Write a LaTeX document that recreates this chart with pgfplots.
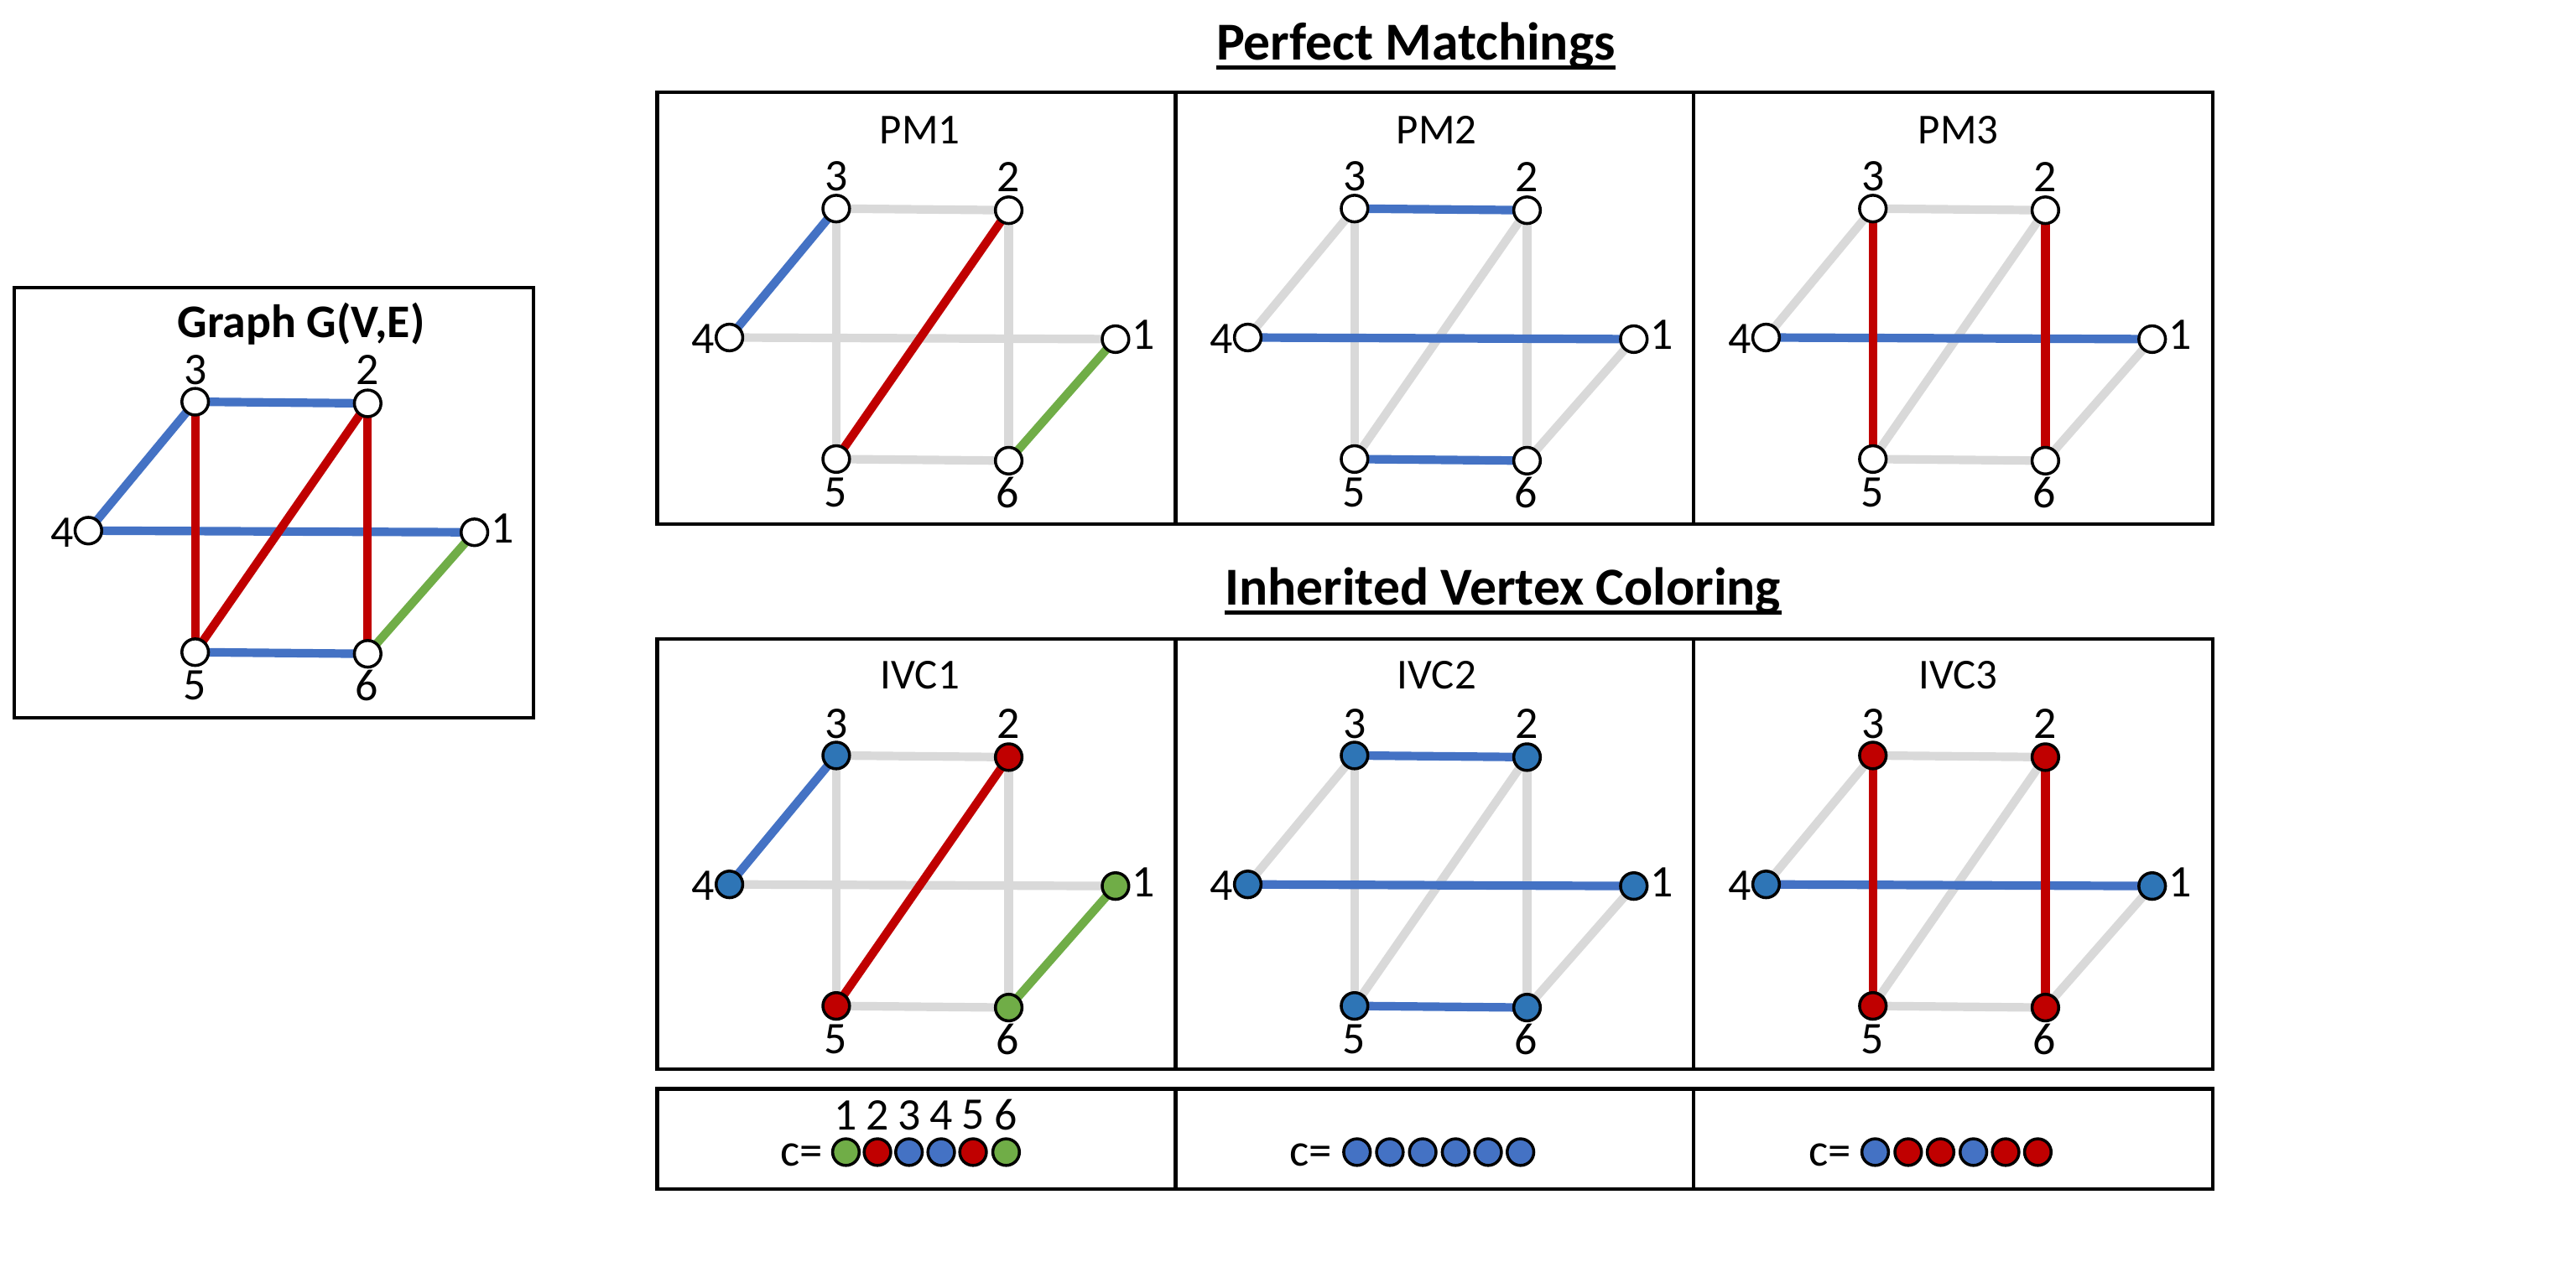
\documentclass[border=0pt]{standalone}
\usepackage{pgfplots}
\pgfplotsset{compat=1.18}
\usepackage{fontspec}
\setmainfont{Carlito}
\definecolor{eblue}{HTML}{4472C4}
\definecolor{ered}{HTML}{C00000}
\definecolor{egreen}{HTML}{70AD47}
\definecolor{egray}{HTML}{D9D9D9}
\definecolor{vblue}{HTML}{2E75B6}
\newcommand{\fs}[1]{\fontsize{#1}{#1}\selectfont}
\pgfplotsset{
  panel/.style 2 args={scale only axis, anchor=north west, width=#1pt, height=#2pt,
    xmin=0, xmax=#1, ymin=0, ymax=#2, y dir=reverse, xtick=\empty, ytick=\empty,
    clip=false, axis line style={line width=2.2pt, black}},
  gedge/.style={draw=#1, line width=5.2pt, mark=none},
  vtx/.style={only marks, mark=*, mark size=8.1pt, mark options={draw=black, fill=#1, line width=1.8pt}},
}
\newcommand{\vlabels}{%
  \node[font=\fs{27.5}] at (axis cs:109,51.5) {3};
  \node[font=\fs{27.5}] at (axis cs:214,51.5) {2};
  \node[font=\fs{27.5}] at (axis cs:28,150.5) {4};
  \node[font=\fs{27.5}] at (axis cs:296,148) {1};
  \node[font=\fs{27.5}] at (axis cs:108.5,244) {5};
  \node[font=\fs{27.5}] at (axis cs:213.5,244) {6};
}
\begin{document}
\begin{tikzpicture}
% ---------- master axis: page, titles, colour row ----------
\begin{axis}[scale only axis, width=1568pt, height=784pt, xmin=0, xmax=1568, ymin=0, ymax=784,
  y dir=reverse, hide axis, clip=false, anchor=north west, at={(0pt,0pt)}]
\path (rel axis cs:0,0) rectangle (rel axis cs:1,1);
\node[font=\fs{32.5}\bfseries, anchor=base, inner sep=0pt] (t1) at (axis cs:861.8,36.6) {Perfect Matchings};
\draw[line width=2.3pt] ([yshift=-4.4pt]t1.base west) -- ([yshift=-4.4pt]t1.base east);
\node[font=\fs{32.5}\bfseries, anchor=base, inner sep=0pt] (t2) at (axis cs:914.8,368.5) {Inherited Vertex Coloring};
\draw[line width=2.3pt] ([yshift=-4.4pt]t2.base west) -- ([yshift=-4.4pt]t2.base east);
\node[font=\fs{28.5}\bfseries, anchor=base, inner sep=0pt] at (axis cs:183.3,205.5) {Graph G(V,E)};
% colour vectors
\node[font=\fs{28}, anchor=base east, inner sep=0pt] at (axis cs:501,710) {c=};
\node[font=\fs{28}, anchor=base east, inner sep=0pt] at (axis cs:811,710) {c=};
\node[font=\fs{28}, anchor=base east, inner sep=0pt] at (axis cs:1127,710) {c=};
\node[font=\fs{27.5}] at (axis cs:514.9,679) {1};
\node[font=\fs{27.5}] at (axis cs:534.1,679) {2};
\node[font=\fs{27.5}] at (axis cs:553.3,679) {3};
\node[font=\fs{27.5}] at (axis cs:572.9,679) {4};
\node[font=\fs{27.5}] at (axis cs:592.3,679) {5};
\node[font=\fs{27.5}] at (axis cs:612.4,679) {6};
\addplot[vtx=egreen] coordinates {(514.9,701.5) (612.4,701.5)};
\addplot[vtx=ered] coordinates {(534.1,701.5) (592.3,701.5)};
\addplot[vtx=eblue] coordinates {(553.3,701.5) (572.9,701.5)};
\addplot[vtx=eblue] coordinates {(826.0,701.5) (846.0,701.5) (866.0,701.5) (886.0,701.5) (905.8,701.5) (925.5,701.5)};
\addplot[vtx=eblue] coordinates {(1141.4,701.5) (1201.2,701.5)};
\addplot[vtx=ered] coordinates {(1161.5,701.5) (1181.2,701.5) (1220.8,701.5) (1240.4,701.5)};
\end{axis}
% colour row boxes
\begin{axis}[panel={315.5}{61}, at={(400pt,-663pt)}] \end{axis}
\begin{axis}[panel={315.5}{61}, at={(715.5pt,-663pt)}] \end{axis}
\begin{axis}[panel={316}{61}, at={(1031pt,-663pt)}] \end{axis}
% ---------- left graph ----------
\begin{axis}[panel={316}{262}, at={(8.8pt,-175.2pt)}, xmin=-1, xmax=315, ymin=1.6, ymax=263.6]
\addplot[gedge=eblue] coordinates {(109,71) (214,72)};
\addplot[gedge=eblue] coordinates {(109,71) (44,149.5)};
\addplot[gedge=eblue] coordinates {(44,149.5) (279,150.5)};
\addplot[gedge=eblue] coordinates {(109,223.5) (214,224.5)};
\addplot[gedge=ered] coordinates {(109,71) (109,223.5)};
\addplot[gedge=ered] coordinates {(214,72) (109,223.5)};
\addplot[gedge=ered] coordinates {(214,72) (214,224.5)};
\addplot[gedge=egreen] coordinates {(214,224.5) (279,150.5)};
\addplot[vtx=white] coordinates {(279,150.5) (214,72) (109,71) (44,149.5) (109,223.5) (214,224.5)};
\vlabels
\end{axis}
% ---------- PM1 ----------
\begin{axis}[panel={315.5}{263}, at={(400pt,-56pt)}]
\addplot[gedge=egray] coordinates {(109,71) (214,72)};
\addplot[gedge=egray] coordinates {(44,149.5) (279,150.5)};
\addplot[gedge=egray] coordinates {(109,71) (109,223.5)};
\addplot[gedge=egray] coordinates {(214,72) (214,224.5)};
\addplot[gedge=egray] coordinates {(109,223.5) (214,224.5)};
\addplot[gedge=eblue] coordinates {(109,71) (44,149.5)};
\addplot[gedge=ered] coordinates {(214,72) (109,223.5)};
\addplot[gedge=egreen] coordinates {(214,224.5) (279,150.5)};
\addplot[vtx=white] coordinates {(279,150.5) (214,72) (109,71) (44,149.5) (109,223.5) (214,224.5)};
\node[font=\fs{26}, anchor=base] at (axis cs:160,31.5) {PM1};
\vlabels
\end{axis}
% ---------- PM2 ----------
\begin{axis}[panel={315.5}{263}, at={(715.5pt,-56pt)}]
\addplot[gedge=egray] coordinates {(109,71) (44,149.5)};
\addplot[gedge=egray] coordinates {(109,71) (109,223.5)};
\addplot[gedge=egray] coordinates {(214,72) (109,223.5)};
\addplot[gedge=egray] coordinates {(214,72) (214,224.5)};
\addplot[gedge=egray] coordinates {(214,224.5) (279,150.5)};
\addplot[gedge=eblue] coordinates {(109,71) (214,72)};
\addplot[gedge=eblue] coordinates {(44,149.5) (279,150.5)};
\addplot[gedge=eblue] coordinates {(109,223.5) (214,224.5)};
\addplot[vtx=white] coordinates {(279,150.5) (214,72) (109,71) (44,149.5) (109,223.5) (214,224.5)};
\node[font=\fs{26}, anchor=base] at (axis cs:159,31.5) {PM2};
\vlabels
\end{axis}
% ---------- PM3 ----------
\begin{axis}[panel={316}{263}, at={(1031pt,-56pt)}]
\addplot[gedge=egray] coordinates {(109,71) (44,149.5)};
\addplot[gedge=egray] coordinates {(109,71) (214,72)};
\addplot[gedge=egray] coordinates {(214,72) (109,223.5)};
\addplot[gedge=egray] coordinates {(109,223.5) (214,224.5)};
\addplot[gedge=egray] coordinates {(214,224.5) (279,150.5)};
\addplot[gedge=eblue] coordinates {(44,149.5) (279,150.5)};
\addplot[gedge=ered] coordinates {(109,71) (109,223.5)};
\addplot[gedge=ered] coordinates {(214,72) (214,224.5)};
\addplot[vtx=white] coordinates {(279,150.5) (214,72) (109,71) (44,149.5) (109,223.5) (214,224.5)};
\node[font=\fs{26}, anchor=base] at (axis cs:161,31.5) {PM3};
\vlabels
\end{axis}
% ---------- IVC1 ----------
\begin{axis}[panel={315.5}{262}, at={(400pt,-389pt)}]
\addplot[gedge=egray] coordinates {(109,71) (214,72)};
\addplot[gedge=egray] coordinates {(44,149.5) (279,150.5)};
\addplot[gedge=egray] coordinates {(109,71) (109,223.5)};
\addplot[gedge=egray] coordinates {(214,72) (214,224.5)};
\addplot[gedge=egray] coordinates {(109,223.5) (214,224.5)};
\addplot[gedge=eblue] coordinates {(109,71) (44,149.5)};
\addplot[gedge=ered] coordinates {(214,72) (109,223.5)};
\addplot[gedge=egreen] coordinates {(214,224.5) (279,150.5)};
\addplot[vtx=vblue] coordinates {(109,71) (44,149.5)};
\addplot[vtx=ered] coordinates {(214,72) (109,223.5)};
\addplot[vtx=egreen] coordinates {(279,150.5) (214,224.5)};
\node[font=\fs{26}, anchor=base] at (axis cs:160,30.5) {IVC1};
\vlabels
\end{axis}
% ---------- IVC2 ----------
\begin{axis}[panel={315.5}{262}, at={(715.5pt,-389pt)}]
\addplot[gedge=egray] coordinates {(109,71) (44,149.5)};
\addplot[gedge=egray] coordinates {(109,71) (109,223.5)};
\addplot[gedge=egray] coordinates {(214,72) (109,223.5)};
\addplot[gedge=egray] coordinates {(214,72) (214,224.5)};
\addplot[gedge=egray] coordinates {(214,224.5) (279,150.5)};
\addplot[gedge=eblue] coordinates {(109,71) (214,72)};
\addplot[gedge=eblue] coordinates {(44,149.5) (279,150.5)};
\addplot[gedge=eblue] coordinates {(109,223.5) (214,224.5)};
\addplot[vtx=vblue] coordinates {(279,150.5) (214,72) (109,71) (44,149.5) (109,223.5) (214,224.5)};
\node[font=\fs{26}, anchor=base] at (axis cs:159,30.5) {IVC2};
\vlabels
\end{axis}
% ---------- IVC3 ----------
\begin{axis}[panel={316}{262}, at={(1031pt,-389pt)}]
\addplot[gedge=egray] coordinates {(109,71) (44,149.5)};
\addplot[gedge=egray] coordinates {(109,71) (214,72)};
\addplot[gedge=egray] coordinates {(214,72) (109,223.5)};
\addplot[gedge=egray] coordinates {(109,223.5) (214,224.5)};
\addplot[gedge=egray] coordinates {(214,224.5) (279,150.5)};
\addplot[gedge=eblue] coordinates {(44,149.5) (279,150.5)};
\addplot[gedge=ered] coordinates {(109,71) (109,223.5)};
\addplot[gedge=ered] coordinates {(214,72) (214,224.5)};
\addplot[vtx=ered] coordinates {(214,72) (109,71) (109,223.5) (214,224.5)};
\addplot[vtx=vblue] coordinates {(279,150.5) (44,149.5)};
\node[font=\fs{26}, anchor=base] at (axis cs:161,30.5) {IVC3};
\vlabels
\end{axis}
\end{tikzpicture}
\end{document}
